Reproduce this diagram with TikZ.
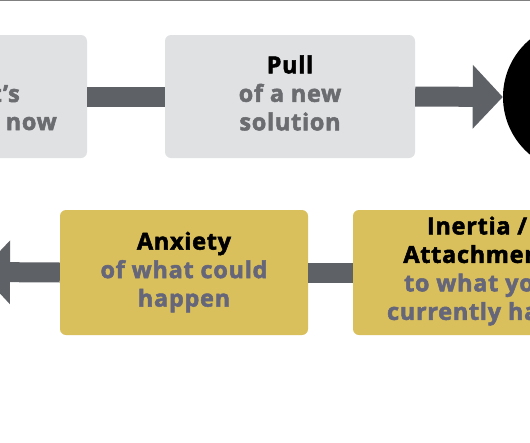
\documentclass[tikz,border=0pt]{standalone}
\usepackage{fontspec}
\setmainfont{Open Sans}[BoldFeatures={FakeBold=2.2,LetterSpace=3}]
\usetikzlibrary{arrows.meta}
\definecolor{boxgray}{HTML}{DFE1E3}
\definecolor{bargray}{HTML}{5E6166}
\definecolor{boxyellow}{HTML}{D9C05C}
\definecolor{subgray}{HTML}{6A6C70}
\definecolor{subblue}{HTML}{66667A}
\begin{document}
\begin{tikzpicture}[x=1pt,y=-1pt,
  card/.style={rounded corners=6pt, minimum width=250pt, minimum height=123pt,
    inner sep=0pt},
  graycard/.style={card, fill=boxgray},
  yellowcard/.style={card, fill=boxyellow, minimum height=125pt},
  lbl/.style={inner sep=0pt, align=center, text=black,
    font=\fontsize{23.5}{28.5}\selectfont\bfseries},
  bar/.style={draw=bargray, line width=20pt},
  head/.style={-{Triangle[length=30pt,width=62pt]}}]
\useasboundingbox (0,0) rectangle (530,442);
\clip (0,0) rectangle (530,442);
\fill[white] (0,0) rectangle (530,442);
\draw[gray, line width=1pt] (0,0.5) -- (530,0.5);

% top row
\node[graycard] (push) at (-38,96.5) {};
\node[lbl, text=subgray, anchor=base east] (pusha) at (20,102) {what’s};
\node[lbl, text=subgray, anchor=base east] (pushb) at (57,130) {happening now};
\node[graycard] (pull) at (290,96.5) {};
\node[lbl] (pullt) at (290,93)
  {Pull\\\textcolor{subgray}{of a new}\\\textcolor{subgray}{solution}};
\node[circle, fill=black, minimum size=150pt, inner sep=0pt] (goal) at (578,97) {};

% bottom row
\node[yellowcard, minimum width=248pt] (anx) at (184,272.5) {};
\node[lbl] (anxt) at (184,272)
  {Anxiety\\\textcolor{subblue}{of what could}\\\textcolor{subblue}{happen}};
\node[yellowcard] (inr) at (478,272.5) {};
\node[lbl] (inrt) at (477,271)
  {Inertia /\\Attachment\\\textcolor{subblue}{to what you}\\\textcolor{subblue}{currently have}};
\coordinate (ltip) at (-20,272);

% connectors
\draw[bar] (push.east) -- (pull.west);
\draw[bar, head] (pull.east) -- (goal.west);
\draw[bar] (inr.west) -- (anx.east);
\draw[bar, head] (anx.west) -- (ltip);
\end{tikzpicture}
\end{document}
